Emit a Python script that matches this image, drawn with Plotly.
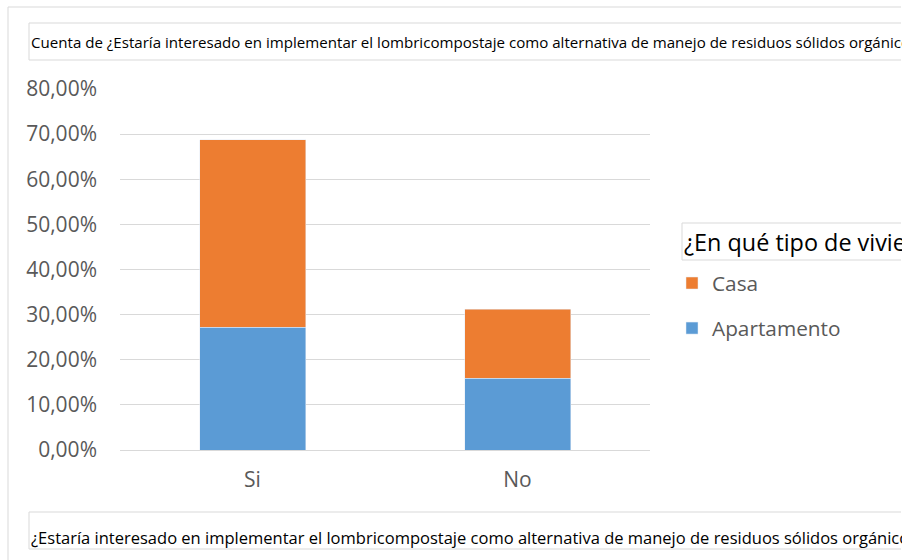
import plotly.graph_objects as go

# data
categorias = ["Si", "No"]
apartamento = [0.272, 0.159]
casa = [0.415, 0.153]
y_ticks = [0.0, 0.1, 0.2, 0.3, 0.4, 0.5, 0.6, 0.7, 0.8]

titulo = ("Cuenta de ¿Estaría interesado en implementar el lombricompostaje como "
          "alternativa de manejo de residuos sólidos orgánicos")
eje_x = ("¿Estaría interesado en implementar el lombricompostaje como "
         "alternativa de manejo de residuos sólidos orgánicos?")
leyenda = "¿En qué tipo de vivienda vive?"

BLUE = "#5B9BD5"
ORANGE = "#ED7D31"
GRID = "#D9D9D9"
TEXT = "#595959"
FONT = "Open Sans"

# plot area in pixels
W, H = 915, 560
PL, PR, PT, PB = 120, 650, 89, 450


def fx(x):
    return (x - PL) / (PR - PL)


def fy(y):
    return (PB - y) / (PB - PT)


def hline(x0, x1, y):
    return dict(type="line", xref="paper", yref="paper", x0=fx(x0), x1=fx(x1),
                y0=fy(y), y1=fy(y), line=dict(color=GRID, width=1))


def vline(x, y0, y1):
    return dict(type="line", xref="paper", yref="paper", x0=fx(x), x1=fx(x),
                y0=fy(y0), y1=fy(y1), line=dict(color=GRID, width=1))


fig = go.Figure()
fig.add_trace(go.Bar(x=categorias, y=apartamento, name="Apartamento",
                     marker=dict(color=BLUE), legendgroup="a", legendrank=2))
fig.add_trace(go.Bar(x=categorias, y=casa, name="Casa",
                     marker=dict(color=ORANGE), legendgroup="c", legendrank=1))

shapes = [
    hline(8, 901, 7), vline(8, 7, 560),
    hline(29, 901, 23), hline(29, 901, 60), vline(29, 23, 60),
    hline(29, 901, 512), hline(29, 901, 549), vline(29, 512, 549),
    hline(682, 901, 223), hline(682, 901, 260), vline(682, 223, 260),
]

annotations = [
    dict(text=titulo, x=fx(29), y=fy(42), xref="paper", yref="paper",
         xanchor="left", yanchor="middle", showarrow=False, width=871,
         align="left", font=dict(family=FONT, size=15.1, color="#000000")),
    dict(text=eje_x, x=fx(29), y=fy(537), xref="paper", yref="paper",
         xanchor="left", yanchor="middle", showarrow=False, width=871,
         align="left", font=dict(family=FONT, size=16.5, color="#000000")),
    dict(text=leyenda, x=fx(682), y=fy(242), xref="paper", yref="paper",
         xanchor="left", yanchor="middle", showarrow=False, width=218,
         align="left", font=dict(family=FONT, size=23.4, color="#000000")),
]

fig.update_layout(
    width=W, height=H,
    margin=dict(l=PL, r=W - PR, t=PT, b=H - PB),
    paper_bgcolor="white", plot_bgcolor="white",
    barmode="stack", bargap=0.6,
    separators=",.",
    font=dict(family=FONT, color=TEXT),
    shapes=shapes, annotations=annotations,
    showlegend=True,
    legend=dict(x=fx(672), y=fy(263), xanchor="left", yanchor="top",
                traceorder="grouped", tracegroupgap=15,
                font=dict(family=FONT, size=20.8, color=TEXT),
                bgcolor="rgba(0,0,0,0)"),
)
fig.update_yaxes(range=[0, 0.8], tickvals=y_ticks, tickformat=".2%",
                 showgrid=True, gridcolor=GRID, gridwidth=1,
                 zeroline=True, zerolinecolor=GRID, zerolinewidth=1,
                 showline=False, ticks="", ticklabelstandoff=22,
                 tickfont=dict(family=FONT, size=21, color=TEXT))
fig.update_xaxes(showline=False, ticks="", ticklabelstandoff=15,
                 tickfont=dict(family=FONT, size=21, color=TEXT))

# the page keeps the default 8px body margin unless it is cleared
fig.write_html("out.html", config={"displayModeBar": False},
               post_script="document.body.style.margin = '0';")
